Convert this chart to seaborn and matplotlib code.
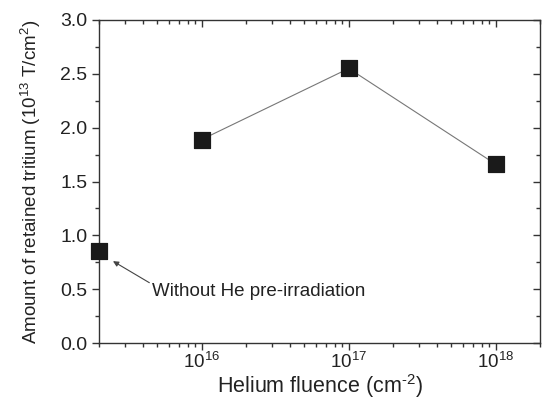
import matplotlib
matplotlib.use("Agg")
import matplotlib.pyplot as plt
import seaborn as sns
import pandas as pd
import numpy as np
from matplotlib.ticker import LogLocator, MultipleLocator, NullFormatter, FixedLocator

# Data
fluence = [2e15, 1e16, 1e17, 1e18]
retained = [0.85, 1.89, 2.55, 1.66]
connected = [False, True, True, True]
xtick_vals = [1e16, 1e17, 1e18]
xtick_labels = [r"10$^{\mathregular{16}}$", r"10$^{\mathregular{17}}$", r"10$^{\mathregular{18}}$"]
ytick_vals = [0.0, 0.5, 1.0, 1.5, 2.0, 2.5, 3.0]

df = pd.DataFrame({"fluence": fluence, "retained": retained, "connected": connected})

sns.set_style("ticks")
plt.rcParams['font.family'] = ['Liberation Sans', 'DejaVu Sans']
plt.rcParams['mathtext.fontset'] = 'custom'
plt.rcParams['mathtext.rm'] = 'Liberation Sans'
plt.rcParams['mathtext.it'] = 'Liberation Sans'

fig = plt.figure(figsize=(5.44, 4.03), dpi=100)
ax = fig.add_axes([99/544, 1-343/403, (540-99)/544, (343-20)/403])

line_df = df[df["connected"]]
sns.lineplot(data=line_df, x="fluence", y="retained", ax=ax, color="#777777",
             linewidth=0.8, sort=False, zorder=1)
sns.scatterplot(data=df, x="fluence", y="retained", ax=ax, marker="s", s=118,
                color="#1a1a1a", edgecolor="#1a1a1a", zorder=3, clip_on=False)

ax.set_xscale("log")
ax.set_xlim(2e15, 2e18)
ax.set_ylim(0, 3.0)
ax.xaxis.set_major_locator(FixedLocator(xtick_vals))
ax.set_xticklabels(xtick_labels)
ax.xaxis.set_minor_locator(LogLocator(base=10, subs=np.arange(2, 10)))
ax.xaxis.set_minor_formatter(NullFormatter())
ax.yaxis.set_major_locator(FixedLocator(ytick_vals))
ax.set_yticklabels([f"{v:.1f}" for v in ytick_vals])
ax.yaxis.set_minor_locator(MultipleLocator(0.25))

for s in ax.spines.values():
    s.set_visible(True)
    s.set_color("#333333")
    s.set_linewidth(1.0)

ax.tick_params(axis="both", which="major", direction="out", length=5, width=1,
               labelsize=14, colors="#333333", labelcolor="#222222")
ax.tick_params(axis="x", which="major", labelsize=13.5, pad=1.5)
ax.tick_params(axis="both", which="minor", direction="out", length=3, width=1,
               colors="#333333")
ax.tick_params(axis="both", which="both", top=True, right=True)
# mirrored ticks point inward
for t in ax.xaxis.get_major_ticks() + ax.xaxis.get_minor_ticks():
    t.tick2line.set_marker(3)
for t in ax.yaxis.get_major_ticks() + ax.yaxis.get_minor_ticks():
    t.tick2line.set_marker(0)

ax.set_xlabel(r"Helium fluence (cm$^{\text{-2}}$)", fontsize=15.5, color="#222222", labelpad=0)
ax.set_ylabel(r"Amount of retained tritium (10$^{\mathregular{13}}$ T/cm$^{\mathregular{2}}$)",
              fontsize=13.5, color="#222222", labelpad=12)

ax.annotate("", xy=(2.49e15, 0.76), xytext=(4.4e15, 0.56),
            arrowprops=dict(arrowstyle="-|>", color="#444444", lw=0.8,
                            mutation_scale=8, shrinkA=0, shrinkB=0))
ax.text(4.57e15, 0.48, "Without He pre-irradiation", fontsize=13.5, color="#222222",
        va="center", ha="left")

fig.savefig("out.png", dpi=100)
